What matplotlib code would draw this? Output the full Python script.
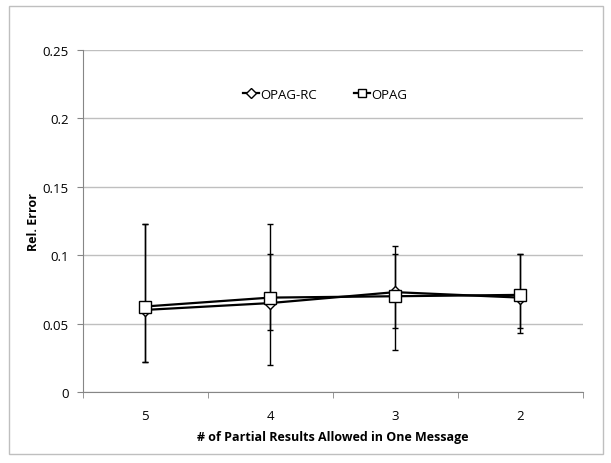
import numpy as np
import matplotlib.pyplot as plt
from matplotlib.patches import Rectangle

# --- Data ---
categories = ["5", "4", "3", "2"]
rc_mean = [0.060, 0.065, 0.073, 0.069]
rc_high = [0.123, 0.123, 0.1065, 0.101]
rc_low = [0.022, 0.020, 0.031, 0.043]
opag_mean = [0.0625, 0.069, 0.070, 0.071]
opag_high = [0.123, 0.101, 0.101, 0.101]
opag_low = [0.022, 0.045, 0.047, 0.047]
y_ticks = [0, 0.05, 0.1, 0.15, 0.2, 0.25]
y_tick_labels = ["0", "0.05", "0.1", "0.15", "0.2", "0.25"]
# ---------------------

plt.rcParams['font.family'] = ['Open Sans', 'DejaVu Sans']

fig = plt.figure(figsize=(6.11, 4.64), dpi=100)
ax = fig.add_axes([82.5 / 611, 1 - 393 / 464, 500 / 611, 342 / 464])

# outer chart border
fig.patches.append(Rectangle((9 / 611, 1 - 455 / 464), 594 / 611, 448 / 464,
                             transform=fig.transFigure, fill=False,
                             edgecolor='#bfbfbf', linewidth=1))

x = np.arange(len(categories))

def draw_series(mean, high, low, marker, ms, label):
    mean = np.array(mean)
    yerr = [mean - np.array(low), np.array(high) - mean]
    ax.errorbar(x, mean, yerr=yerr, fmt='none', ecolor='black',
                elinewidth=1, capsize=2.5, capthick=1, zorder=3)
    ax.plot(x, mean, color='black', linewidth=1.6, marker=marker,
            markersize=ms, markerfacecolor='white', markeredgecolor='black',
            markeredgewidth=1, label=label, zorder=4)

draw_series(rc_mean, rc_high, rc_low, 'D', 6.5, 'OPAG-RC')
draw_series(opag_mean, opag_high, opag_low, 's', 8, 'OPAG')

ax.set_xlim(-0.5, len(categories) - 0.5)
ax.set_ylim(0, 0.25)
ax.set_yticks(y_ticks)
ax.set_yticklabels(y_tick_labels, fontsize=9.5)
ax.set_xticks(x)
ax.set_xticklabels(categories, fontsize=9.5)
ax.set_xticks(np.arange(-0.5, len(categories)), minor=True)
ax.tick_params(axis='x', which='major', length=0, pad=12)
ax.tick_params(axis='x', which='minor', length=4, color='#868686', direction='out')
ax.tick_params(axis='y', length=4, color='#868686', direction='out', pad=6)

ax.yaxis.grid(True, color='#bfbfbf', linewidth=1)
ax.set_axisbelow(True)
for s in ['top', 'right']:
    ax.spines[s].set_visible(False)
for s in ['left', 'bottom']:
    ax.spines[s].set_color('#868686')

ax.set_ylabel("Rel. Error", fontsize=9, fontweight='bold', labelpad=2)
ax.set_xlabel("# of Partial Results Allowed in One Message", fontsize=9,
              fontweight='bold', labelpad=6)

ax.legend(loc='center', bbox_to_anchor=(0.485, 0.87), ncol=2, frameon=False,
          fontsize=9.5, handlelength=1.2, handletextpad=0.1, columnspacing=2.8,
          markerscale=0.8)

plt.savefig("out.png", dpi=100)
